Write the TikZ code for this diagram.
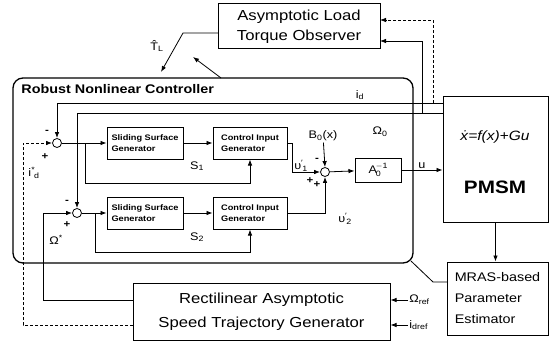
\documentclass[tikz,border=0pt]{standalone}
\usepackage{fontspec}
\setmainfont{Liberation Sans}[FakeStretch=1.15]
\usetikzlibrary{arrows.meta,positioning,calc}

\newcommand{\subsup}[3]{#1\textsuperscript{#3}\kern-0.1em\textsubscript{#2}}

\begin{document}
\begin{tikzpicture}[x=1pt, y=-1pt, line width=0.8pt,
      >={Latex[length=6pt,width=4.5pt]},
      blk/.style={draw, line width=1pt, align=center, inner sep=0pt},
      sml/.style={draw, line width=1pt, minimum height=32pt, align=left, inner sep=0pt,
                  font=\fontsize{8}{11}\selectfont\bfseries},
      sumj/.style={draw, circle, minimum size=9pt, inner sep=0pt},
      lbl/.style={font=\fontsize{11}{13}\selectfont, inner sep=1pt},
      sgn/.style={font=\fontsize{10}{10}\selectfont\bfseries, inner sep=0pt}]

    \useasboundingbox (0,0) rectangle (553,342);

    % outer blocks
    \node[blk, minimum width=162pt, minimum height=45pt, font=\fontsize{14.5}{20}\selectfont]
      (obs) at (299,26.5) {Asymptotic Load\\Torque Observer};
    \node[draw, line width=1.3pt, rounded corners=10pt, minimum width=400pt, minimum height=185pt]
      (ctrl) at (213,170.5) {};
    \node[anchor=west, inner sep=0pt, font=\fontsize{12.5}{14}\selectfont\bfseries]
      (ttl) at (21,89) {Robust Nonlinear Controller};
    \node[blk, minimum width=105pt, minimum height=125pt] (pmsm) at (495.5,159.5) {};
    \node[font=\fontsize{13.5}{15}\selectfont\itshape] (eqn) at (495,137) {\.{x}=f(x)+Gu};
    \node[font=\fontsize{18}{20}\selectfont\bfseries] (pmsmlbl) at (495,187) {PMSM};
    \node[blk, minimum width=101pt, minimum height=73pt, align=left,
          font=\fontsize{12.5}{21}\selectfont] (mras) at (497.5,298.5) {MRAS-based\\Parameter\\Estimator};
    \node[blk, minimum width=257pt, minimum height=57pt, font=\fontsize{14.5}{24}\selectfont]
      (traj) at (261.5,311.5) {Rectilinear Asymptotic\\Speed Trajectory Generator};

    % inner blocks
    \node[sumj] (sumA) at (57,143) {};
    \node[sumj] (sumB) at (77,213) {};
    \node[sumj] (sumC) at (325,172) {};
    \node[sml, minimum width=76pt] (ssgA) at (145,143) {Sliding Surface\\Generator};
    \node[sml, minimum width=74pt] (cigA) at (250,143) {Control Input\\Generator};
    \node[sml, minimum width=76pt] (ssgB) at (145,213) {Sliding Surface\\Generator};
    \node[sml, minimum width=74pt] (cigB) at (250,213) {Control Input\\Generator};
    \node[blk, minimum width=46pt, minimum height=24pt, font=\fontsize{11}{13}\selectfont]
      (ainv) at (378,170) {$\mathrm{A}_{\mathrm{0}}^{\mathrm{-1}}$};

    % labels
    \node[lbl] (thl) at (157,46) {\^{T}\textsubscript{L}};
    \node[lbl] (idl) at (360,95) {i\textsubscript{d}};
    \node[lbl] (wzero) at (380,132) {Ω\textsubscript{0}};
    \node[lbl] (bzero) at (323,136) {B\textsubscript{0}(x)};
    \node[lbl] (sa) at (197,166) {S\textsubscript{1}};
    \node[lbl] (sb) at (197,237) {S\textsubscript{2}};
    \node[lbl] (va) at (301,166) {\subsup{υ}{1}{′}};
    \node[lbl] (vb) at (345,219) {\subsup{υ}{2}{′}};
    \node[lbl] (idstar) at (34,173) {\subsup{i}{d}{*}};
    \node[lbl] (wstar) at (56,240) {Ω\textsuperscript{*}};
    \node[lbl, anchor=west] (wref) at (408,300) {Ω\textsubscript{ref}};
    \node[lbl, anchor=west] (idref) at (408,325) {i\textsubscript{dref}};

    % signs
    \node[sgn] at (47,132) {-};
    \node[sgn] at (45,157) {+};
    \node[sgn] at (67,202) {-};
    \node[sgn] at (67,225) {+};
    \node[sgn] at (317,160) {-};
    \node[sgn] at (310,181) {+};
    \node[sgn] at (317,185) {+};

    % free ends
    \coordinate (tapA) at (433,103);
    \coordinate (tapB) at (422,113);
    \coordinate (obsinA) at (380,20);
    \coordinate (obsinB) at (380,41);
    \coordinate (obsout) at (218,33);
    \coordinate (thlend) at (161,72);
    \coordinate (ctrlout) at (221,78);
    \coordinate (ctrlend) at (193,57);
    \coordinate (mrasout) at (447,282);
    \coordinate (ctrlin) at (411,261);
    \coordinate (trajoutA) at (133,300);
    \coordinate (trajoutB) at (133,325);

    % feedback from the motor
    \draw[->] (pmsm.west |- tapA) -| (sumA.north);
    \draw[->] (pmsm.west |- tapB) -| (sumB.north);
    \draw[->, densely dashed] (tapA) |- (obsinA);
    \draw[->] (tapB) |- (obsinB);
    \draw[->] (obsout) -- ++(-35,0) -- (thlend);
    \draw[->] (ctrlout) -- (ctrlend);

    % first loop
    \draw[->] (sumA) -- (ssgA);
    \draw[->] (ssgA) -- (cigA);
    \draw[->] (85,143) -- ++(0,40) -| (cigA.south);
    \draw[->] (cigA.east) -- ++(5,0) |- (sumC.west);

    % second loop
    \draw[->] (sumB) -- (ssgB);
    \draw[->] (ssgB) -- (cigB);
    \draw[->] (95,213) -- ++(0,39) -| (cigB.south);
    \draw[->] (cigB.east) -| (sumC.south);

    \draw[->] (bzero) -- (sumC.north);
    \draw[->] (sumC) -- (ainv);
    \draw[->] (ainv) -- (ainv -| pmsm.west) node[lbl, midway, above] {u};

    % estimator and trajectories
    \draw[->] (pmsm.south) -- (pmsm.south |- mras.north);
    \draw (mrasout) -- ++(-14,0) -- (ctrlin);
    \draw[->] (trajoutA) -- ++(-90,0) |- (sumB.west);
    \draw[->, densely dashed] (trajoutB) -- ++(-110,0) |- (sumA.west);
    \draw[->] (wref.west) -- (traj.east |- wref);
    \draw[->] (idref.west) -- (traj.east |- idref);
  \end{tikzpicture}
\end{document}
